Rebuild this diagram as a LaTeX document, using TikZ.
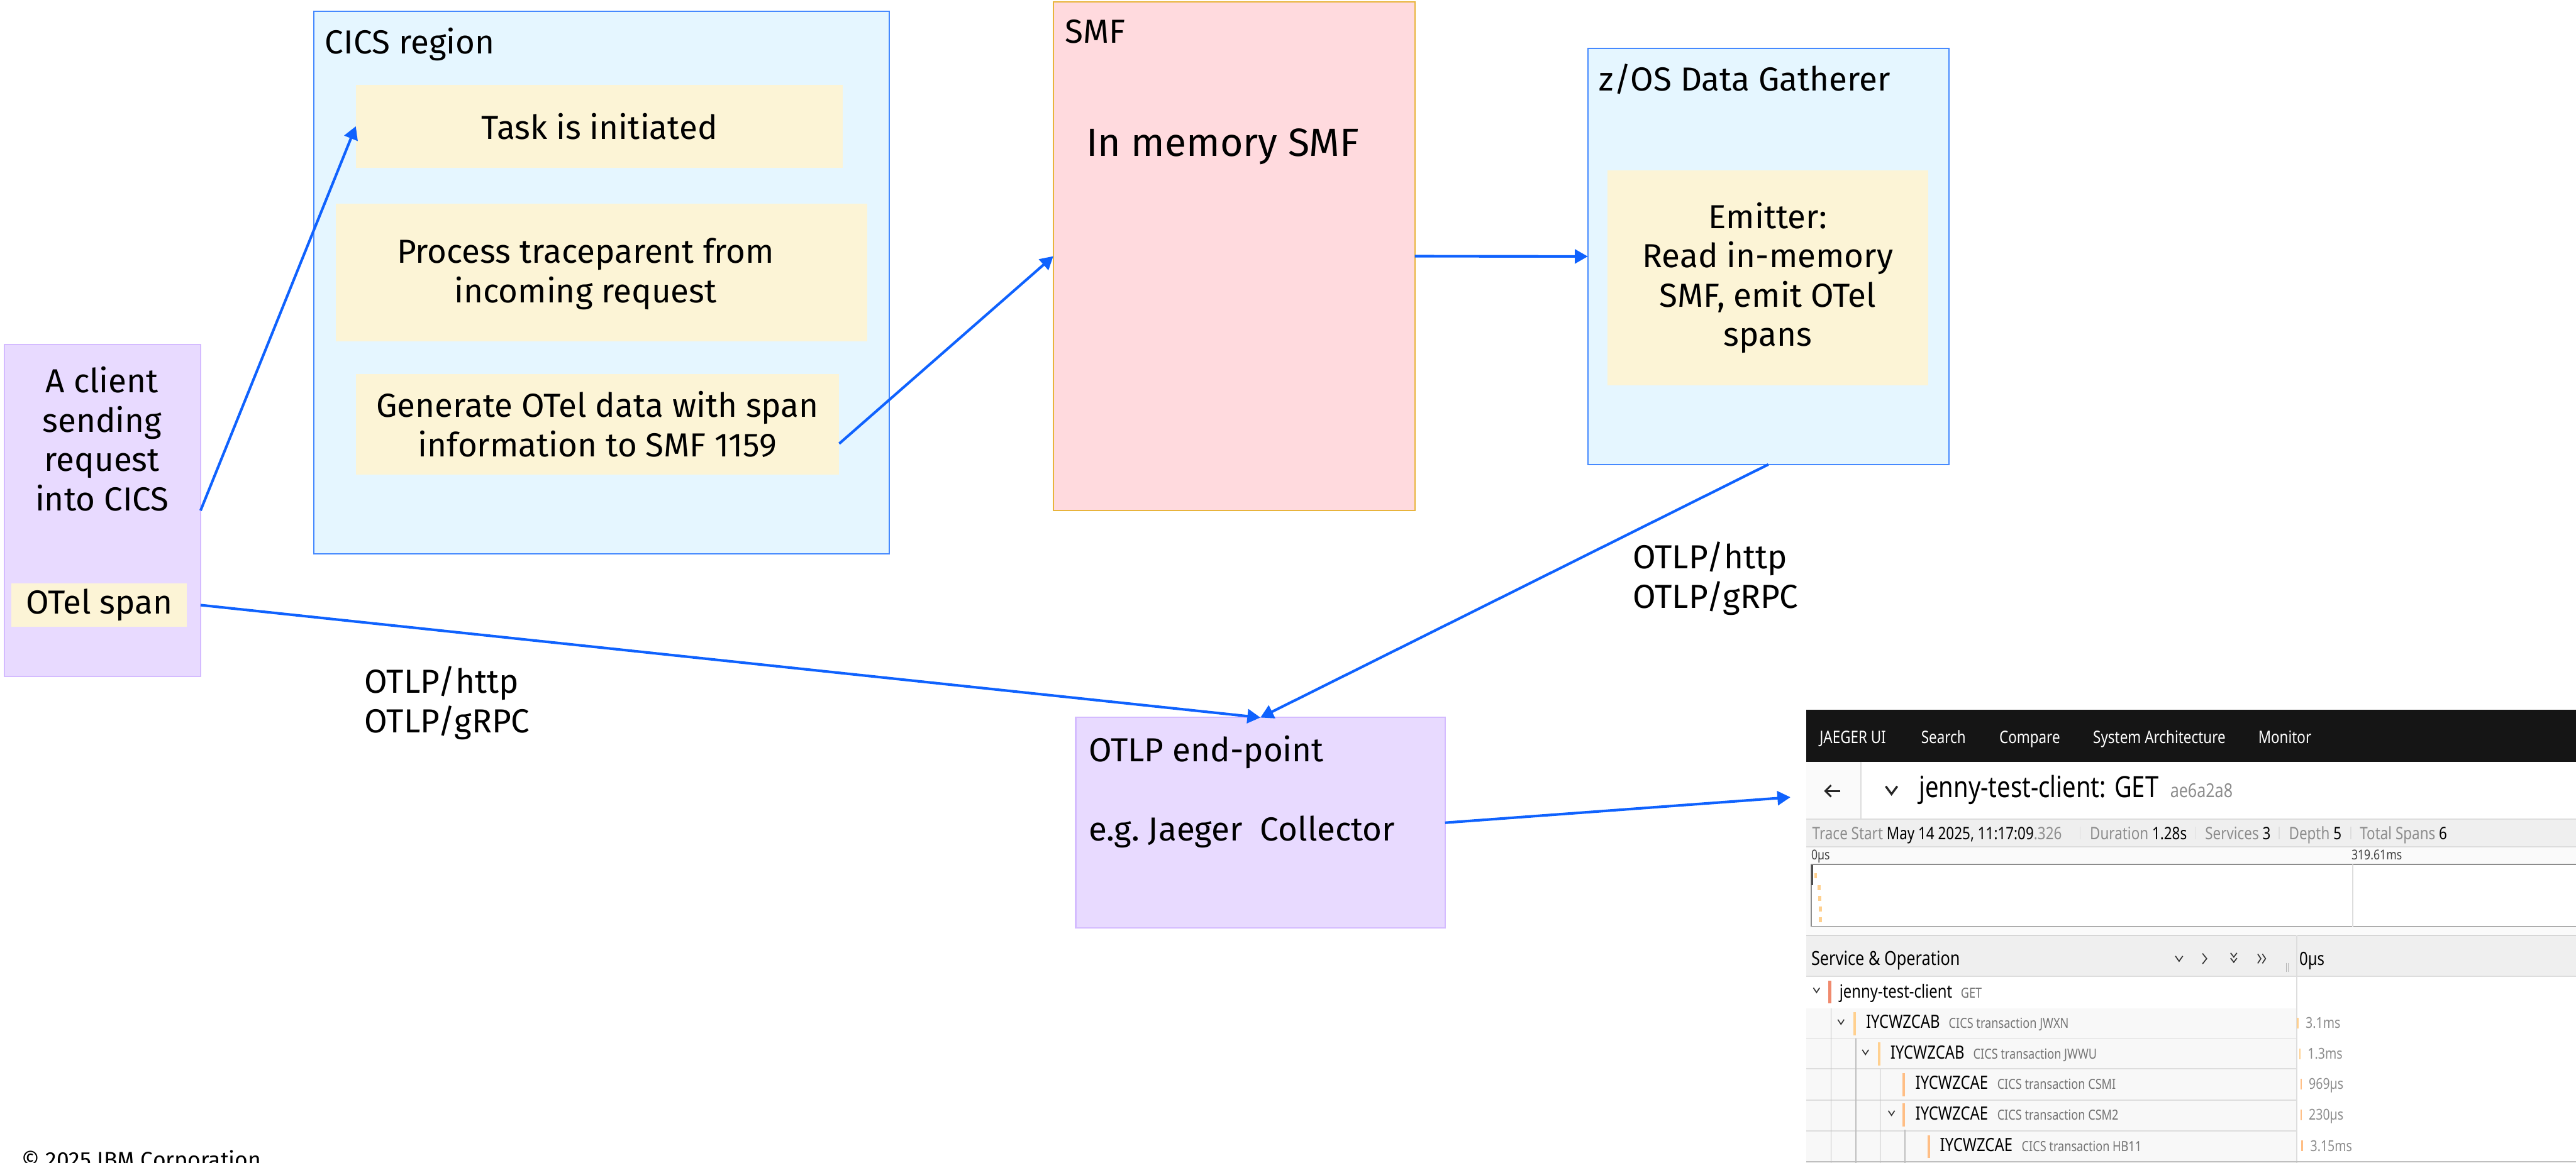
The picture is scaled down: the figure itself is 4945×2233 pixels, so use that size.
\documentclass[tikz,border=0pt]{standalone}
\usepackage{fontspec}
\setmainfont{Fira Sans}
\newfontfamily\jf[FakeStretch=0.82]{Noto Sans}
\usetikzlibrary{arrows.meta}
\definecolor{fillblue}{HTML}{E5F6FF}
\definecolor{bordblue}{HTML}{4589FF}
\definecolor{fillyel}{HTML}{FCF4D6}
\definecolor{fillpink}{HTML}{FFDADE}
\definecolor{bordgold}{HTML}{E8B43C}
\definecolor{fillpur}{HTML}{E8DAFF}
\definecolor{bordpur}{HTML}{D4BBFF}
\definecolor{arrowblue}{HTML}{0F62FE}
\definecolor{jblack}{HTML}{151515}
\definecolor{jgray}{HTML}{8C8C8C}
\definecolor{jline}{HTML}{DDDDDD}
\definecolor{jband}{HTML}{EFEFEF}
\definecolor{jcell}{HTML}{FAFAFA}
\definecolor{jrow}{HTML}{F8F8F8}
\definecolor{jsalmon}{HTML}{F08A6E}
\definecolor{jorange}{HTML}{FFD08F}
\definecolor{jorange2}{HTML}{FFBE85}
\begin{document}
\begin{tikzpicture}[x=0.1mm,y=-0.1mm,
  every node/.style={inner sep=0pt, outer sep=0pt},
  mainf/.style={font=\fontsize{18.2}{21.5}\selectfont},
  box/.style={line width=0.25mm, inner sep=0pt},
  bluebox/.style={box, draw=bordblue, fill=fillblue},
  pinkbox/.style={box, draw=bordgold, fill=fillpink},
  purbox/.style={box, draw=bordpur, fill=fillpur},
  yelbox/.style={fill=fillyel, align=center, mainf},
  lbl/.style={mainf, anchor=base west},
  conn/.style={draw=arrowblue, line width=0.5mm, -{Triangle[length=2.5mm,width=2.7mm]}},
  jhead/.style={font=\jf\fontsize{9.4}{11}\selectfont, text=white, anchor=base west},
  jstat/.style={font=\jf\fontsize{9.4}{11}\selectfont, text=jgray, anchor=base west},
  jsmall/.style={font=\jf\fontsize{7.4}{8.5}\selectfont, text=black!75, anchor=base west},
  jname/.style={font=\jf\fontsize{10}{12}\selectfont, anchor=base west},
  jsub/.style={font=\jf\fontsize{7.6}{9}\selectfont, text=black!55, anchor=base west},
  jdur/.style={font=\jf\fontsize{8.2}{9.5}\selectfont, text=jgray, anchor=base west},
  jchev/.style={draw=black!80, line width=0.2mm},
  jsep/.style={draw=jline, line width=0.2mm},
]
\path[use as bounding box] (0,0) rectangle (4945,2233);

% ---------- client ----------
\node[purbox, minimum width=37.6mm, minimum height=63.7mm] (client) at (197,980.5) {};
\node[mainf, align=center] (clienttxt) at (196,843) {A client\\sending\\request\\into CICS};
\node[yelbox, minimum width=33.7mm, minimum height=8.4mm] (span) at (190.5,1162) {OTel span};

% ---------- CICS region ----------
\node[bluebox, minimum width=110.5mm, minimum height=104.2mm] (cics) at (1154.5,543) {};
\node[lbl] (cicslbl) at (624,103) {CICS region};
\node[yelbox, minimum width=93.5mm, minimum height=15.9mm] (task) at (1150.5,242.5) {Task is initiated};
\node[yelbox, minimum width=102mm, minimum height=26.5mm] (process) at (1155,523.5) {};
\node[mainf, align=center] (processtxt) at (1124,526) {Process traceparent from\\incoming request};
\node[yelbox, minimum width=92.8mm, minimum height=19.4mm] (generate) at (1147,815) {Generate OTel data with span\\information to SMF 1159};

% ---------- SMF ----------
\node[pinkbox, minimum width=69.4mm, minimum height=97.6mm] (smf) at (2369,492) {};
\node[lbl] (smflbl) at (2045,83) {SMF};
\node[font=\fontsize{21.5}{25}\selectfont, anchor=base] (inmem) at (2347,300) {In memory SMF};

% ---------- z/OS Data Gatherer ----------
\node[bluebox, minimum width=69.3mm, minimum height=79.9mm] (zos) at (3394.5,492.5) {};
\node[lbl] (zoslbl) at (3070,175) {z/OS Data Gatherer};
\node[yelbox, minimum width=61.5mm, minimum height=41.3mm] (emitter) at (3393.5,533.5) {Emitter:\\Read in-memory\\SMF, emit OTel\\spans};

% ---------- OTLP end-point ----------
\node[purbox, minimum width=70.9mm, minimum height=40.4mm] (otlp) at (2419.5,1580) {};
\node[lbl] (otlplbl) at (2090,1463) {OTLP end-point};
\node[lbl] (otlpex) at (2090,1615) {e.g.\ Jaeger\ \ Collector};

% ---------- protocol labels ----------
\node[mainf, align=left, anchor=west] (proto1) at (700,1350) {OTLP/http\\OTLP/gRPC};
\node[mainf, align=left, anchor=west] (proto2) at (3135,1111) {OTLP/http\\OTLP/gRPC};

% ---------- copyright ----------
\node[font=\fontsize{12.2}{14}\selectfont, anchor=base west] (copy) at (42,2243) {\textcopyright{} 2025 IBM Corporation};

% ---------- connectors ----------
\coordinate (jtip) at (3437,1531);
\draw[conn] (client.east) -- (task.west);
\draw[conn] ([yshift=-3.7mm]generate.east) -- (smf.west);
\draw[conn] (smf.east) -- (zos.west);
\draw[conn] (span.east -| client.east) -- (otlp.north);
\draw[conn] (zos.south) -- (otlp.north);
\draw[conn] (otlp.east) -- (jtip);

% ---------- Jaeger UI screenshot ----------
\fill[white] (3467,1363) rectangle (4945,2233);
\fill[jblack] (3467,1363) rectangle (4945,1463);
\node[jhead] (jh1) at (3493,1428) {JAEGER UI};
\node[jhead] (jh2) at (3688,1428) {Search};
\node[jhead] (jh3) at (3838,1428) {Compare};
\node[jhead] (jh4) at (4018,1428) {System Architecture};
\node[jhead] (jh5) at (4335,1428) {Monitor};

\fill[jcell] (3467,1463) rectangle (3572,1573);
\draw[jsep] (3572,1463) -- (3572,1573);
\draw[black!85, line width=0.35mm] (3533,1519) -- (3504,1519);
\draw[black!85, line width=0.35mm] (3515,1508) -- (3504,1519) -- (3515,1530);
\draw[black!85, line width=0.4mm] (3620,1510) -- (3631,1525) -- (3642,1510);
\node[font=\jf\fontsize{16}{19}\selectfont, anchor=base west] (jtitle) at (3684,1532) {jenny-test-client: GET};
\node[font=\jf\fontsize{10.5}{12}\selectfont, text=jgray, anchor=base west] (jid) at (4166,1532) {ae6a2a8};

\fill[jband] (3467,1573) rectangle (4945,1626);
\draw[jsep] (3467,1573) -- (4945,1573);
\draw[jsep] (3467,1626) -- (4945,1626);
\node[jstat] (js1) at (3479,1612) {Trace Start \textcolor{black}{\bfseries May 14 2025, 11:17:09}.326};
\draw[jsep] (3993,1588) -- (3993,1612);
\node[jstat] (js2) at (4012,1612) {Duration \textcolor{black}{\bfseries 1.28s}};
\draw[jsep] (4214,1588) -- (4214,1612);
\node[jstat] (js3) at (4233,1612) {Services \textcolor{black}{\bfseries 3}};
\draw[jsep] (4375,1588) -- (4375,1612);
\node[jstat] (js4) at (4394,1612) {Depth \textcolor{black}{\bfseries 5}};
\draw[jsep] (4513,1588) -- (4513,1612);
\node[jstat] (js5) at (4530,1612) {Total Spans \textcolor{black}{\bfseries 6}};

\fill[jcell] (3467,1627) rectangle (4945,1796);
\node[jsmall] (jt0) at (3477,1651) {0µs};
\node[jsmall] (jt1) at (4514,1651) {319.61ms};
\fill[white] (3477,1660) rectangle (4945,1779);
\draw[black!45, line width=0.2mm] (4945,1660) -- (3477,1660) -- (3477,1779) -- (4945,1779);
\draw[jsep] (4516,1660) -- (4516,1779);
\fill[black!70] (3477,1661) rectangle (3481,1700);
\fill[jorange] (3483,1677) rectangle (3488,1686);
\fill[jorange] (3489,1700) rectangle (3495,1710);
\fill[jorange] (3490,1720) rectangle (3496,1730);
\fill[jorange] (3491,1741) rectangle (3497,1751);
\fill[jorange] (3491,1761) rectangle (3497,1771);

\fill[jband] (3467,1797) rectangle (4945,1875);
\draw[black!25, line width=0.2mm] (3467,1797) -- (4945,1797);
\draw[jsep] (3467,1875) -- (4945,1875);
\node[font=\jf\fontsize{10.6}{12.5}\selectfont, anchor=base west] (jso) at (3477,1854) {Service \& Operation};
\draw[jchev] (4176,1836) -- (4183,1846) -- (4190,1836);
\draw[jchev] (4228,1831) -- (4236,1841) -- (4228,1851);
\draw[jchev] (4282,1830) -- (4288,1838) -- (4294,1830);
\draw[jchev] (4282,1840) -- (4288,1848) -- (4294,1840);
\draw[jchev] (4334,1832) -- (4340,1841) -- (4334,1850);
\draw[jchev] (4343,1832) -- (4349,1841) -- (4343,1850);
\draw[black!30, line width=0.15mm] (4389,1849) -- (4389,1866);
\draw[black!30, line width=0.15mm] (4393,1849) -- (4393,1866);
\node[font=\jf\fontsize{10}{12}\selectfont, anchor=base west] (jz) at (4414,1854) {0µs};

% rows
\fill[jrow] (3467,1936) rectangle (4409,2233);
\draw[jsep] (3467,1994) -- (4409,1994);
\draw[jsep] (3467,2052) -- (4409,2052);
\draw[jsep] (3467,2113) -- (4409,2113);
\draw[jsep] (3467,2172) -- (4409,2172);
\draw[jsep] (4409,1797) -- (4409,2233);
\draw[black!25, line width=0.2mm] (3467,2231) -- (4945,2231);
% tree lines
\draw[black!25, line width=0.2mm] (3515,1936) -- (3515,2233);
\draw[black!25, line width=0.2mm] (3563,1995) -- (3563,2233);
\draw[black!25, line width=0.2mm] (3609,2053) -- (3609,2233);
\draw[black!25, line width=0.2mm] (3657,2170) -- (3657,2233);

% row 1
\draw[jchev] (3481,1897) -- (3487,1906) -- (3493,1897);
\fill[jsalmon] (3510,1883) rectangle (3515,1927);
\node[jname] (jr1) at (3531,1916) {jenny-test-client};
\node[jsub] (jr1s) at (3764,1916) {GET};
% row 2
\draw[jchev] (3528,1958) -- (3534,1967) -- (3540,1958);
\fill[jorange] (3558,1944) rectangle (3563,1988);
\node[jname] (jr2) at (3582,1975) {IYCWZCAB};
\node[jsub] (jr2s) at (3741,1975) {CICS transaction JWXN};
\fill[jorange] (4409,1955) rectangle (4413,1975);
\node[jdur] (jd2) at (4426,1975) {3.1ms};
% row 3
\draw[jchev] (3575,2016) -- (3581,2025) -- (3587,2016);
\fill[jorange] (3605,2002) rectangle (3610,2046);
\node[jname] (jr3) at (3629,2034) {IYCWZCAB};
\node[jsub] (jr3s) at (3788,2034) {CICS transaction JWWU};
\fill[jorange] (4414,2014) rectangle (4416,2034);
\node[jdur] (jd3) at (4430,2034) {1.3ms};
% row 4
\fill[jorange2] (3652,2061) rectangle (3657,2105);
\node[jname] (jr4) at (3677,2092) {IYCWZCAE};
\node[jsub] (jr4s) at (3834,2092) {CICS transaction CSMI};
\fill[jorange2] (4416,2072) rectangle (4418,2092);
\node[jdur] (jd4) at (4432,2092) {969µs};
% row 5
\draw[jchev] (3625,2133) -- (3631,2142) -- (3637,2133);
\fill[jorange2] (3652,2119) rectangle (3657,2163);
\node[jname] (jr5) at (3677,2151) {IYCWZCAE};
\node[jsub] (jr5s) at (3834,2151) {CICS transaction CSM2};
\fill[jorange2] (4416,2131) rectangle (4418,2151);
\node[jdur] (jd5) at (4432,2151) {230µs};
% row 6
\fill[jorange2] (3700,2180) rectangle (3705,2224);
\node[jname] (jr6) at (3724,2211) {IYCWZCAE};
\node[jsub] (jr6s) at (3881,2211) {CICS transaction HB11};
\fill[jorange2] (4417,2190) rectangle (4421,2211);
\node[jdur] (jd6) at (4435,2211) {3.15ms};
\end{tikzpicture}
\end{document}
